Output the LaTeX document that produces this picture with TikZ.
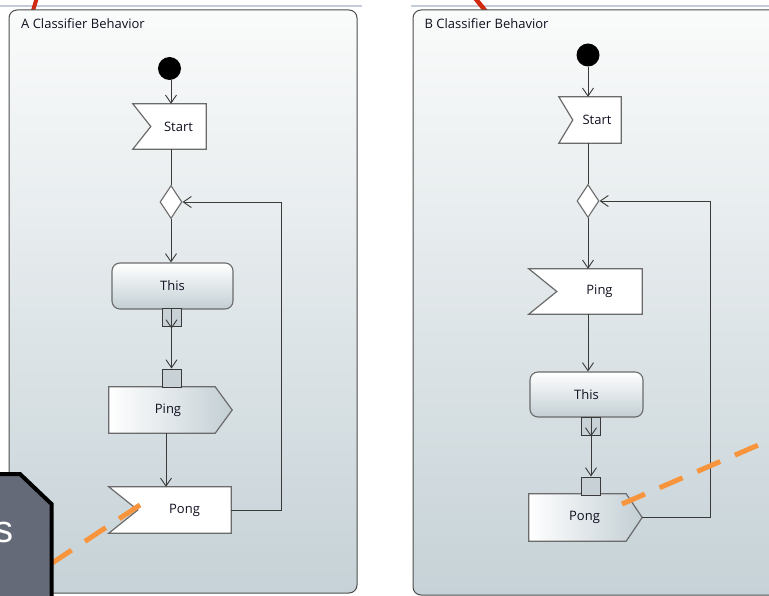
\documentclass[tikz,border=0pt]{standalone}
\usepackage{fontspec}
\setmainfont{Open Sans}
\newfontfamily\overlayfont{Liberation Sans}
\usetikzlibrary{arrows.meta,shapes.geometric}
\pgfdeclarelayer{frames}
\pgfdeclarelayer{shapes}
\pgfsetlayers{frames,shapes,main}

\definecolor{linec}{HTML}{3A3A3A}
\definecolor{edgec}{HTML}{6B6B6B}
\definecolor{framec}{HTML}{4D4D4D}
\definecolor{frametop}{HTML}{FAFBFB}
\definecolor{framebot}{HTML}{C6D2D7}
\definecolor{pinc}{HTML}{C7D1D6}
\definecolor{shadec}{HTML}{C3CFD4}
\definecolor{txtc}{HTML}{101020}
\definecolor{dashc}{HTML}{F7943C}
\definecolor{redc}{HTML}{D0290F}
\definecolor{slatec}{HTML}{646A77}
\definecolor{toplinec}{HTML}{C4CCDC}

\tikzset{
  lbl/.style={font=\fontsize{13}{15}\selectfont, text=txtc},
  box/.style={lbl, inner sep=0pt, draw=none},
  initial/.style={circle, fill=black, inner sep=0pt, minimum size=23pt},
  decision/.style={diamond, draw=edgec, line width=1.1pt, fill=white, inner sep=0pt,
                   minimum width=22pt, minimum height=33pt},
  action/.style={box, draw=edgec, line width=1.1pt, rounded corners=8pt,
                 top color=white, bottom color=shadec},
  pin/.style={draw=linec, line width=1pt, fill=pinc, inner sep=0pt,
              minimum width=19pt, minimum height=18pt},
  outline/.style={draw=edgec, line width=1.2pt},
  flow/.style={draw=linec, line width=0.9pt,
               -{Straight Barb[length=8pt,width=11pt,line width=0.9pt]}},
  plain/.style={draw=linec, line width=0.9pt},
  frame/.style={draw=framec, line width=1pt, rounded corners=8pt,
                top color=frametop, bottom color=framebot},
  title/.style={lbl, anchor=base west, inner sep=0pt},
  callout/.style={draw=dashc, line width=5pt, dash pattern=on 25pt off 16pt},
}

\begin{document}
\begin{tikzpicture}[x=1pt, y=-1pt]
\useasboundingbox (0,0) rectangle (769,596);

% ---------- panels ----------
\begin{pgfonlayer}{frames}
  \clip (0,0) rectangle (769,596);
  \fill[white] (0,0) rectangle (769,596);
  \draw[toplinec, line width=1.5pt] (0,6) -- (362,6);
  \draw[toplinec, line width=1.5pt] (411,6) -- (769,6);
  \draw[redc, line width=4pt] (32,14) -- (36.5,-1);
  \draw[redc, line width=4.5pt] (475,-2) -- (488,14);
  \path[frame] (9,10) rectangle (357,593);
  \path[frame] (413,10) rectangle (790,595);
\end{pgfonlayer}

\node[title] (titleA) at (21,29) {A Classifier Behavior};
\node[title] (titleB) at (424.5,29) {B Classifier Behavior};

% ---------- behavior A ----------
\node[initial] (initA) at (169.5,68.5) {};
\node[box, minimum width=73pt, minimum height=45pt] (startA) at (169.5,126.5) {\hspace*{18pt}Start};
\node[decision] (diaA) at (171,202) {};
\node[action, minimum width=121pt, minimum height=46pt] (thisA) at (172.5,286) {This};
\node[pin] (outA) at (171.5,318) {};
\node[pin] (inA) at (171.5,378) {};
\node[box, minimum width=123pt, minimum height=46pt] (pingA) at (170.5,410) {Ping\hspace*{5pt}};
\node[box, minimum width=122pt, minimum height=46pt] (pongA) at (170,510) {\hspace*{29pt}Pong};
\coordinate (loopA) at (281,202);

% ---------- behavior B ----------
\node[initial] (initB) at (588,55) {};
\node[box, minimum width=62pt, minimum height=46pt] (startB) at (590,120) {\hspace*{14pt}Start};
\node[decision] (diaB) at (588,201) {};
\node[box, minimum width=113pt, minimum height=45pt] (pingB) at (585.5,291.5) {\hspace*{28pt}Ping};
\node[action, minimum width=113pt, minimum height=45pt] (thisB) at (586.5,394.5) {This};
\node[pin] (outB) at (591,426) {};
\node[pin] (inB) at (591,486) {};
\node[box, minimum width=113pt, minimum height=47pt] (pongB) at (585.5,517.5) {Pong\hspace*{2pt}};
\coordinate (loopB) at (710,201);

% ---------- signal shapes ----------
\begin{pgfonlayer}{shapes}
  % accept event actions (notched on the left)
  \draw[outline, fill=white] (startA.north west) -- (startA.north east) -- (startA.south east)
    -- (startA.south west) -- ([xshift=18pt]startA.west) -- cycle;
  \draw[outline, fill=white] (pongA.north west) -- (pongA.north east) -- (pongA.south east)
    -- (pongA.south west) -- ([xshift=29pt]pongA.west) -- cycle;
  \draw[outline, fill=white] (startB.north west) -- (startB.north east) -- (startB.south east)
    -- (startB.south west) -- ([xshift=14pt]startB.west) -- cycle;
  \draw[outline, fill=white] (pingB.north west) -- (pingB.north east) -- (pingB.south east)
    -- (pingB.south west) -- ([xshift=28pt]pingB.west) -- cycle;
  % send signal actions (pointed on the right)
  \draw[outline, left color=white, right color=shadec] (pingA.north west)
    -- ([xshift=-17pt]pingA.north east) -- (pingA.east)
    -- ([xshift=-17pt]pingA.south east) -- (pingA.south west) -- cycle;
  \draw[outline, left color=white, right color=shadec] (pongB.north west)
    -- ([xshift=-16pt]pongB.north east) -- (pongB.east)
    -- ([xshift=-16pt]pongB.south east) -- (pongB.south west) -- cycle;
\end{pgfonlayer}

% ---------- flows A ----------
\draw[flow] (initA.south -| diaA.north) -- (diaA.north |- startA.north);
\draw[plain] (diaA.north |- startA.south) -- (diaA.north);
\draw[flow] (diaA.south) -- (diaA.south |- thisA.north);
\draw[flow] (outA.north) -- ([yshift=-1pt]outA.south);
\draw[flow] (outA.south) -- (inA.north);
\draw[flow] ([xshift=-4.5pt]pingA.south) -- ([xshift=-4.5pt]pingA.south |- pongA.north);
\draw[flow] (pongA.east) -| (loopA) -- (diaA.east);

% ---------- flows B ----------
\draw[flow] (initB.south) -- (initB.south |- startB.north);
\draw[plain] (diaB.north |- startB.south) -- (diaB.north);
\draw[flow] (diaB.south) -- (diaB.south |- pingB.north);
\draw[flow] (diaB.south |- pingB.south) -- (diaB.south |- thisB.north);
\draw[flow] (outB.north) -- ([yshift=-1pt]outB.south);
\draw[flow] (outB.south) -- (inB.north);
\draw[flow] (pongB.east) -| (loopB) -- (diaB.east);

% ---------- annotation overlay ----------
\begin{scope}
  \clip (0,0) rectangle (769,596);
  \draw[callout] (140,505) -- (40,571);
  \draw[callout] (622,504) -- (800,427);
  \filldraw[fill=slatec, draw=black, line width=4pt, line join=miter]
    (-10,474) -- (20,474) -- (51.5,504) -- (51.5,610) -- (-10,610) -- cycle;
  \node[anchor=base east, inner sep=0pt, text=white, font=\overlayfont\fontsize{38}{40}\selectfont]
    (tagS) at (14,542) {s};
\end{scope}
\end{tikzpicture}
\end{document}
